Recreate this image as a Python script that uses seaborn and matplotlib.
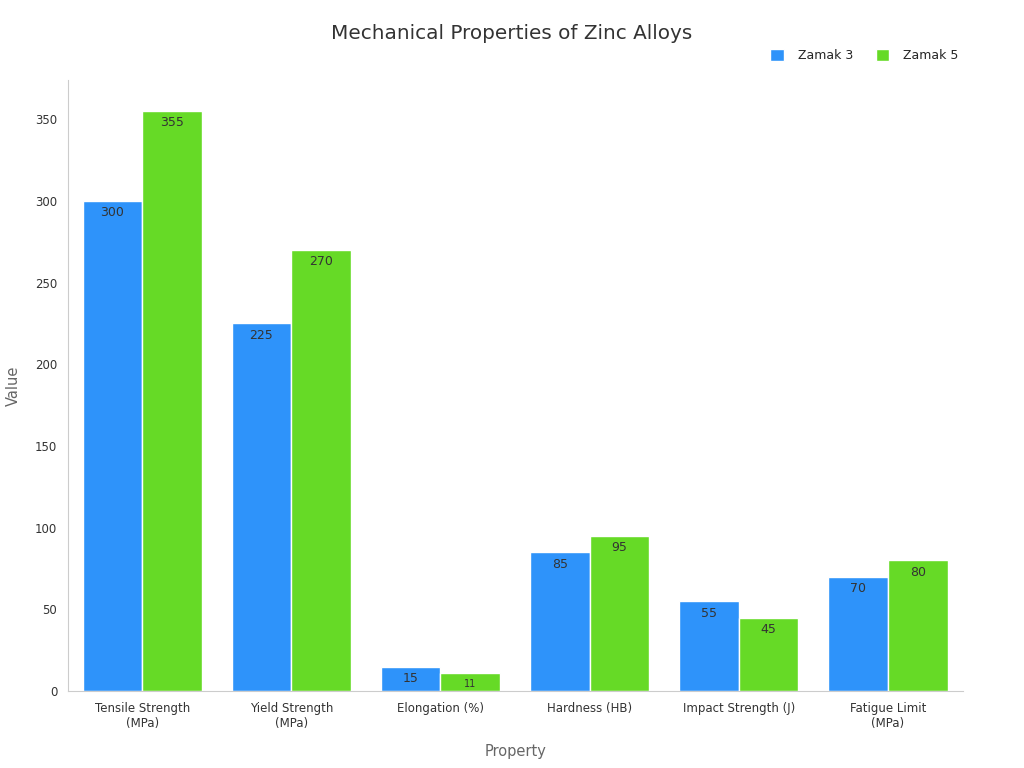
import pandas as pd
import matplotlib.pyplot as plt
import seaborn as sns

properties = ["Tensile Strength\n(MPa)", "Yield Strength\n(MPa)", "Elongation (%)",
              "Hardness (HB)", "Impact Strength (J)", "Fatigue Limit\n(MPa)"]
zamak3 = [300, 225, 15, 85, 55, 70]
zamak5 = [355, 270, 11, 95, 45, 80]
series = ["Zamak 3", "Zamak 5"]
colors = ["#2E93FA", "#66DA26"]

data = pd.DataFrame({
    "Property": properties * 2,
    "Value": zamak3 + zamak5,
    "Alloy": [series[0]] * len(properties) + [series[1]] * len(properties),
})

sns.set_style("white")
plt.rcParams["font.family"] = ["DejaVu Sans"]

fig, ax = plt.subplots(figsize=(10.24, 7.68), dpi=100)
sns.barplot(data=data, x="Property", y="Value", hue="Alloy", palette=colors,
            saturation=1, width=0.8, edgecolor="white", linewidth=1, ax=ax)

# labels inside top of bars
for container in ax.containers:
    for bar in container:
        h = bar.get_height()
        size = 9 if h > 12 else 7
        ax.annotate(f"{h:g}", (bar.get_x() + bar.get_width() / 2, h),
                    xytext=(0, -4), textcoords="offset points",
                    ha="center", va="top", fontsize=size, color="#333333")

ax.set_ylim(0, 374)
ax.set_xlim(-0.5, 5.5)
fig.suptitle("Mechanical Properties of Zinc Alloys", fontsize=14.4, color="#333333",
             x=0.5, y=0.957, va="center")
ax.set_xlabel("Property", fontsize=10.5, color="#666666", labelpad=10)
ax.set_ylabel("Value", fontsize=10.5, color="#666666", labelpad=10)
ax.tick_params(axis="both", labelsize=8.5, labelcolor="#333333", length=4, color="#555555")
sns.despine(ax=ax)
for s in ["left", "bottom"]:
    ax.spines[s].set_color("#cccccc")

ax.legend(loc="lower right", bbox_to_anchor=(1.008, 1.011), ncol=2, frameon=False,
          fontsize=9, handlelength=1.1, handleheight=1.1, columnspacing=1.8,
          handletextpad=1.1)

plt.subplots_adjust(left=0.066, right=0.94, top=0.896, bottom=0.1)
plt.savefig("out.png", dpi=100)
